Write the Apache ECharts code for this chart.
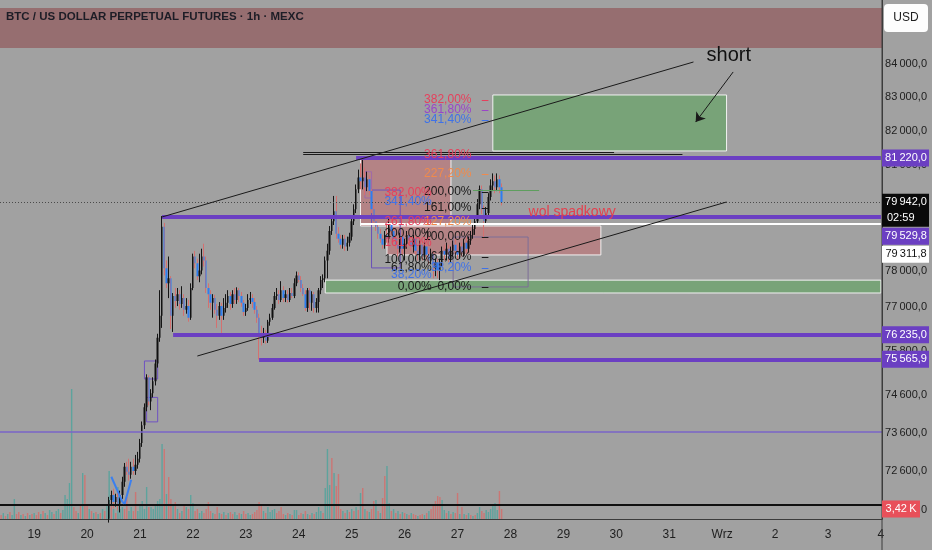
<!DOCTYPE html>
<html><head><meta charset="utf-8">
<script src="https://cdn.jsdelivr.net/npm/echarts@6/dist/echarts.min.js"></script>
<style>html,body{margin:0;padding:0;background:#a1a1a1;}#c{width:932px;height:550px;}</style>
</head><body><div id="c"></div>
<script>
const BG = '#a1a1a1';
const FONT = "'Liberation Sans Narrow','Liberation Sans',sans-serif";

// ---- time axis: hourly bars starting Aug 18 09:00 ----
const AXIS_START = Date.UTC(2025, 7, 18, 9);
const AXIS_HOURS = 400;
const pad = n => String(n).padStart(2, '0');
const categories = [];
for (let i = 0; i < AXIS_HOURS; i++) {
  const d = new Date(AXIS_START + i * 3600000);
  categories.push(pad(d.getUTCMonth() + 1) + '-' + pad(d.getUTCDate()) + ' ' + pad(d.getUTCHours()) + ':00');
}

// ---- price ticks on the right scale ----
const priceTicks = [84000, 83000, 82000, 81000, 80000, 79000, 78000, 77000, 75800, 74600, 73600, 72600, 71600];

// ---- candles [open, close, low, high], hourly from Aug 20 10:00 ----
const candleStart = '08-20 10:00';
const candles = [
 [71370,71850,71270,71930],[71850,71980,71730,72090],[71980,71800,71630,72140],[71800,71930,71680,72010],[71930,71750,71580,72040],
 [71750,71980,71530,72090],[71980,72320,71880,72450],[72320,72710,72190,72810],[72710,72580,72500,72840],[72580,72500,72350,72920],
 [72500,72710,72400,72840],[72710,72600,72500,72920],[72600,72760,72500,73020],[72760,72920,72660,73100],[72920,73330,72820,73440],
 [73330,73800,73230,73900],[73800,74280,73700,74380],[74280,75080,74170,75160],[75080,74430,74330,75130],[74430,74650,74200,74760],
 [74650,74970,74540,75080],[74970,75450,74860,75560],[75450,76150,75340,76260],[76150,76750,76040,77460],[76750,79240,76420,79545],
 [79240,78070,77870,79350],[78070,77650,77520,78290],[77650,77790,77240,78400],[77790,76750,76390,77850],[76750,77300,76310,77380],
 [77300,77160,76970,77520],[77160,77350,77020,77520],[77350,77080,76920,77460],[77080,77240,76970,77570],[77240,76920,76750,77350],
 [76920,77020,76810,77240],[77020,76700,76590,77190],[76700,77520,76640,77650],[77520,78400,77460,78480],[78400,78210,78070,78560],
 [78210,77850,77740,78340],[77850,78010,77680,78480],[78010,78400,77900,78620],[78400,78290,78120,78760],[78290,77520,77380,78400],
 [77520,77350,76970,77650],[77350,77110,76920,77460],[77110,77240,76700,77350],[77240,76920,76810,77330],[76920,76750,76420,77080],
 [76750,77020,76640,77130],[77020,76750,76280,77110],[76750,76970,76640,77240],[76970,77110,76840,77350],[77110,77300,76970,77460],
 [77300,77080,76920,77410],[77080,77350,76970,77460],[77350,77190,77080,77520],[77190,77460,77080,77540],[77460,77300,77130,77520],
 [77300,77110,77000,77410],[77110,76860,76750,77190],[76860,76970,76750,77080],[76970,77190,76890,77350],[77190,77240,77080,77410],
 [77240,77130,76970,77350],[77130,76920,76810,77240],[76920,76700,76560,77020],[76700,76280,75560,76810],[76280,76150,75940,76480],
 [76150,76200,76010,76420],[76200,76070,75990,76370],[76070,76590,76010,76640],[76590,76700,76480,76810],[76700,76970,76640,77080],
 [76970,77300,76920,77410],[77300,77350,77190,77520],[77350,77190,77080,77460],[77190,77460,77130,77710],[77460,77240,77130,77570],
 [77240,77350,77130,77460],[77350,77190,77110,77460],[77190,77380,77130,77520],[77380,77300,77240,77520],[77300,77650,77240,77790],
 [77650,77870,77570,77980],[77870,77740,77680,77960],[77740,77520,77410,77850],[77520,77350,77300,77630],[77350,76970,76890,77460],
 [76970,77460,76860,77520],[77460,77110,76920,77520],[77110,77350,76890,77430],[77350,76970,76840,77410],[76970,77130,76840,77240],
 [77130,77460,76840,77520],[77460,77740,77350,77850],[77740,77790,77520,77900],[77790,78290,77680,78400],[78290,78560,77790,78760],
 [78560,79120,78450,79260],[79120,79400,79010,79510],[79400,79680,79290,80120],[79680,79040,78900,80120],[79040,78900,78790,79230],
 [78900,78730,78620,79010],[78730,78900,78620,79010],[78900,78680,78560,79010],[78680,78790,78560,78960],[78790,78960,78680,79070],
 [78960,79400,78850,79510],[79400,79740,79290,79880],[79740,80310,79630,80450],[80310,80650,80200,80880],[80650,80540,80310,81060],
 [80540,80650,80310,81220],[80650,80370,80140,80940],[80370,80600,80260,80820],[80600,80260,80140,80710],[80260,79740,79630,80310],
 [79740,79400,79290,79850],[79400,79240,79120,79570],[79240,79040,78900,79350],[79040,78900,78790,79180],[78900,78730,78620,79010],
 [78730,79010,78620,79120],[79010,78900,78790,79290],[78900,79350,78790,79510],[79350,79120,79010,79460],[79120,78900,78790,79230],
 [78900,78730,78620,79010],[78730,78620,78400,78850],[78620,78960,78510,79070],[78960,78620,78450,79070],[78620,78760,78290,78900],
 [78760,79010,78620,79120],[79010,78850,78730,79120],[78850,78680,78560,78960],[78680,78900,78510,79010],[78900,78560,78450,79010],
 [78560,78450,78290,78730],[78450,78730,78290,78850],[78730,78400,78290,78850],[78400,78680,78290,78790],[78680,78450,78290,78790],
 [78450,78290,78180,78620],[78290,78480,78180,78620],[78480,78070,77790,78560],[78070,78240,77850,78340],[78240,78010,77790,78340],
 [78010,78240,77740,78340],[78240,78560,78120,78680],[78560,78450,78290,78730],[78450,78620,78290,78790],[78620,78340,78240,78730],
 [78340,78560,78240,78680],[78560,78730,78400,78850],[78730,78560,78450,78900],[78560,78450,78290,78730],[78450,78680,78340,78790],
 [78680,78510,78400,78790],[78510,78790,78400,78900],[78790,78620,78510,78960],[78620,78850,78510,78960],[78850,79010,78730,79120],
 [79010,79180,78900,79290],[79180,79400,79010,79510],[79400,79880,79290,80030],[79880,80310,79740,80420],[80310,79740,79600,80420],
 [79740,79400,78900,79850],[79400,79630,79290,79800],[79630,80090,79510,80200],[80090,80420,79990,80600],[80420,80540,80260,80770],
 [80540,80370,80200,80710],[80370,80600,80260,80770],[80600,80370,80200,80710],[80370,79942,79850,80480]
];

// ---- volume (K), hourly from Aug 18 09:00; direction u = up, d = down ----
const volumeStart = '08-18 09:00';
const volume = [
 1.37,2.05,1.03,1.71,2.39,1.37,6.84,1.71,2.39,1.37,
 1.71,1.03,2.05,1.37,1.71,2.05,1.37,2.39,1.71,2.74,
 2.05,1.37,3.08,2.39,1.71,2.74,3.42,2.05,3.08,8.21,
 6.84,12.31,44.46,4.10,2.74,2.05,5.13,15.73,15.05,5.13,
 3.42,2.74,2.05,2.39,1.71,2.05,3.42,2.74,4.79,16.42,
 6.50,3.42,2.05,10.94,3.42,4.10,3.42,7.52,2.74,4.10,
 2.74,9.23,2.74,4.79,6.16,3.42,10.94,4.10,4.10,3.42,
 4.79,6.16,6.84,25.65,23.94,8.55,14.36,6.84,5.13,5.81,
 3.42,2.05,2.74,4.79,4.10,3.42,8.21,5.47,2.74,3.42,
 2.05,2.74,2.05,3.42,5.81,2.74,2.05,1.71,4.10,2.05,
 1.71,2.39,1.37,2.05,2.39,1.71,2.39,1.37,2.05,1.71,
 2.74,1.71,2.05,1.37,1.71,2.39,3.08,5.81,5.13,2.74,
 2.05,4.10,2.39,3.08,3.42,2.05,2.74,4.10,1.71,1.37,
 2.05,1.71,1.37,3.08,3.08,1.37,2.05,1.71,2.74,1.71,
 1.37,2.05,1.71,2.39,4.10,2.74,2.05,10.60,23.94,11.63,
 20.86,15.73,11.29,15.39,3.42,2.74,2.05,3.08,2.39,3.42,
 2.74,4.10,3.08,8.89,10.60,3.42,2.74,2.39,3.42,6.16,
 6.50,2.74,2.05,7.18,14.71,18.13,5.47,2.74,3.42,2.05,
 2.74,1.71,2.39,2.05,1.71,1.37,2.05,1.71,1.37,1.03,
 1.37,1.71,1.37,2.05,2.74,3.42,4.79,6.16,7.87,7.52,
 6.50,3.08,2.05,2.74,1.71,2.39,2.05,8.89,1.71,4.10,
 1.71,1.37,2.05,1.37,1.03,1.37,2.05,4.10,2.74,2.05,
 3.08,2.39,3.42,4.79,5.47,3.08,9.58,3.42
];
const volumeDir = [
 'dududuuddu','dudududdud','uduuduuduu','uuuddududd','ududududuu','duduuudduu',
 'dduuuuuduu','uuuududdud','udududuudd','uudddduddu','dududduudu','dduudddddu',
 'duuuuddddu','duduuddudu','duduuuduuu','dudddududu','dududududd','ududduudud',
 'ududududdu','ddududdddd','uudududdud','udududuudd','uuuuuudd'
].join('');

// ---- drawings (time, price) ----
const topBand = [84480, 85700];
const keyLevels = [ // purple horizontal rays [start, price]
 ['08-25 02:00', 81220], ['08-21 10:00', 79529.8], ['08-21 15:00', 76235], ['08-23 06:00', 75565.9]
];
const trendLines = [
 [['08-21 10:00', 79519], ['08-31 11:00', 84060]],
 [['08-22 02:00', 75654], ['09-01 02:00', 79947]],
 [['08-24 02:00', 81383], ['08-29 23:00', 81383]],
 [['08-24 02:00', 81325], ['08-31 06:00', 81325]]
];
const zigzag = [['08-20 11:00', 72450], ['08-20 16:00', 71800], ['08-20 17:00', 71750], ['08-20 20:00', 72370]];
const greenZones = [
 [['08-27 16:00', 83072], ['09-01 02:00', 81422]],
 [['08-24 12:00', 77739], ['09-04 00:00', 77382]]
];
const pinkZones = [
 [['08-25 04:00', 81189], ['08-26 21:00', 79262]],
 [['08-25 16:00', 79262], ['08-29 17:00', 78444]]
];
const outlineBoxes = [ // [from, to, colour]
 [['08-25 09:00', 80290], ['08-25 22:00', 78080], '#6a50b8'],
 [['08-26 22:00', 78950], ['08-28 08:00', 77550], '#7c6e98'],
 [['08-21 02:00', 75519], ['08-21 08:00', 75034], '#6f52c2'],
 [['08-21 03:00', 74540], ['08-21 08:00', 73889], '#6f52c2'],
 [['08-25 06:00', 80818], ['08-25 09:00', 80062], '#a06aa8']
];
const lastPrice = 79942;
const whiteLevel = ['08-25 04:00', 79311.8];
const blueLevel = 73620;
const blackLevel = 71720;
const greenTick = [['08-27 07:00', 80290], ['08-28 13:00', 80290]];
const arrowLine = [['09-01 05:00', 83760], ['08-31 12:00', 82270]];
const shortNote = ['short', '09-01 03:00', 84271];
const noteWol = ['wol spadkowy', '08-28 08:00', 79660];
const fibLabels = [ // [text, colour, anchor time (right edge), price]
 ['382,00%', '#e6405c', '08-27 07:00', 82930], ['361,80%', '#9a46c8', '08-27 07:00', 82630], ['341,40%', '#3f72e8', '08-27 07:00', 82330],
 ['361,80%', '#e6405c', '08-27 07:00', 81300], ['227,20%', '#f08a4c', '08-27 07:00', 80750], ['200,00%', '#1a1a1a', '08-27 07:00', 80230],
 ['382,00%', '#e6405c', '08-26 13:00', 80200], ['341,40%', '#3f72e8', '08-26 13:00', 79950], ['161,00%', '#1a1a1a', '08-27 07:00', 79780],
 ['127,20%', '#f08a4c', '08-27 07:00', 79380], ['261,80%', '#e6405c', '08-26 13:00', 79380], ['200,00%', '#1a1a1a', '08-26 13:00', 79040],
 ['100,00%', '#1a1a1a', '08-27 07:00', 78950], ['161,80%', '#e6405c', '08-26 13:00', 78780], ['100,00%', '#1a1a1a', '08-26 13:00', 78300],
 ['61,80%', '#1a1a1a', '08-27 07:00', 78390], ['38,20%', '#3f72e8', '08-27 07:00', 78080], ['61,80%', '#1a1a1a', '08-26 13:00', 78080],
 ['38,20%', '#3f72e8', '08-26 13:00', 77880], ['0,00%', '#1a1a1a', '08-26 13:00', 77550], ['0,00%', '#1a1a1a', '08-27 07:00', 77550]
];
const fibDashes = [ // [colour, price]
 ['#e6405c', 82930], ['#9a46c8', 82630], ['#3f72e8', 82330], ['#f08a4c', 80750], ['#1a1a1a', 80230],
 ['#1a1a1a', 79780], ['#1a1a1a', 78950], ['#1a1a1a', 78390], ['#3f72e8', 78080], ['#1a1a1a', 77550]
];
const dashSpan = ['08-27 11:00', '08-27 14:00'];

const PURPLE = '#6b3fc2';
const lastCat = categories[categories.length - 1];

// ---- helpers ----
function dayLabel(v) {
  const m = +v.slice(0, 2), d = +v.slice(3, 5);
  return (m === 9 && d === 1) ? 'Wrz' : String(d);
}
function fmtPrice(p) {
  const s = p.toFixed(1).split('.');
  return s[0].replace(/\B(?=(\d{3})+(?!\d))/g, '\u2009') + ',' + s[1];
}
const seg = (a, b, ls) => [{ coord: a, lineStyle: ls }, { coord: b }];

const ci = categories.indexOf(candleStart);
const vi = categories.indexOf(volumeStart);
const candleRows = candles.map((c, k) => [ci + k, c[0], c[1], c[2], c[3]]);
const volRows = volume.map((v, k) => ({
  value: [vi + k, v],
  itemStyle: { color: volumeDir[k] === 'u' ? 'rgba(38,166,154,0.55)' : 'rgba(239,83,80,0.55)' }
}));

const areaData = [
  [{ yAxis: topBand[0], itemStyle: { color: '#966e70', borderWidth: 0 } }, { yAxis: topBand[1] }]
];
pinkZones.forEach(z => areaData.push([{ coord: z[0], itemStyle: { color: 'rgba(205,95,100,0.45)', borderColor: '#f2f2f2', borderWidth: 1 } }, { coord: z[1] }]));
greenZones.forEach(z => areaData.push([{ coord: z[0], itemStyle: { color: 'rgba(80,165,80,0.5)', borderColor: '#f2f2f2', borderWidth: 1 } }, { coord: z[1] }]));
outlineBoxes.forEach(b => areaData.push([{ coord: b[0], itemStyle: { color: 'rgba(0,0,0,0)', borderColor: b[2], borderWidth: 1 } }, { coord: b[1] }]));

const lineData = [];
lineData.push({ yAxis: lastPrice, lineStyle: { color: '#4a4a4a', width: 1, type: [1, 2] } });
lineData.push({ yAxis: blueLevel, lineStyle: { color: '#7a64c8', width: 1.5, type: 'solid' } });
lineData.push({ yAxis: blackLevel, lineStyle: { color: '#101010', width: 2, type: 'solid' } });
lineData.push(seg(whiteLevel, [lastCat, whiteLevel[1]], { color: '#ffffff', width: 2, type: 'solid' }));
keyLevels.forEach(k => lineData.push(seg(k, [lastCat, k[1]], { color: PURPLE, width: 4, type: 'solid' })));
trendLines.forEach(t => lineData.push(seg(t[0], t[1], { color: '#1a1a1a', width: 1, type: 'solid' })));
for (let i = 0; i < zigzag.length - 1; i++) lineData.push(seg(zigzag[i], zigzag[i + 1], { color: '#3a7ff0', width: 2, type: 'solid' }));
lineData.push(seg(greenTick[0], greenTick[1], { color: '#5e9e5e', width: 1, type: 'solid' }));
fibDashes.forEach(f => lineData.push(seg([dashSpan[0], f[1]], [dashSpan[1], f[1]], { color: f[0], width: 1, type: 'solid' })));

const pointData = fibLabels.map(f => ({
  name: f[0], coord: [f[2], f[3]],
  label: { color: f[1], position: 'left', distance: 1, fontSize: 12 }
}));
pointData.push({ name: noteWol[0], coord: [noteWol[1], noteWol[2]], label: { color: '#e4404e', position: 'right', distance: 0, fontSize: 14 } });
pointData.push({ name: shortNote[0], coord: [shortNote[1], shortNote[2]], label: { color: '#111', position: 'inside', fontSize: 20 } });

const chart = echarts.init(document.getElementById('c'));
const option = {
  backgroundColor: BG,
  animation: false,
  title: {
    text: 'BTC / US DOLLAR PERPETUAL FUTURES · 1h · MEXC', left: 6, top: 11, padding: 0,
    textStyle: { fontFamily: FONT, fontSize: 11.5, fontWeight: 'bold', color: '#1d1d26' }
  },
  grid: { left: 0, right: 50, top: 0, bottom: 31 },
  xAxis: {
    type: 'category', data: categories, boundaryGap: true,
    axisLine: { show: true, lineStyle: { color: '#3c3c3c', width: 1 } },
    axisTick: { show: false },
    splitLine: { show: false },
    axisLabel: {
      interval: (i, v) => v.endsWith(' 00:00'),
      formatter: dayLabel, color: '#1e1e1e', fontSize: 12, fontFamily: FONT, margin: 10
    }
  },
  yAxis: [
    { type: 'log', logBase: 10, min: 71362, max: 85948, position: 'right',
      axisLine: { show: true, lineStyle: { color: '#3c3c3c' } }, axisTick: { show: false },
      axisLabel: { show: false }, splitLine: { show: false } },
    { type: 'value', min: 0, max: 177.5, show: false, splitLine: { show: false } }
  ],
  series: [
    { name: 'volume', type: 'bar', xAxisIndex: 0, yAxisIndex: 1, data: volRows, barWidth: 1.4, z: 1, silent: true },
    { name: 'zones', type: 'line', data: [], z: 1, silent: true,
      markArea: { silent: true, label: { show: false }, data: areaData } },
    { name: 'wicks', type: 'candlestick', data: candleRows, barWidth: 0.3, z: 2, silent: true,
      dimensions: ['t', 'open', 'close', 'low', 'high'], encode: { x: 0, y: [1, 2, 3, 4] },
      itemStyle: { color: '#151515', color0: '#d47070', borderColor: '#151515', borderColor0: '#d47070', borderWidth: 1 } },
    { name: 'BTC', type: 'candlestick', data: candleRows, barWidth: 1.9, z: 3, silent: true,
      dimensions: ['t', 'open', 'close', 'low', 'high'], encode: { x: 0, y: [1, 2, 3, 4] },
      itemStyle: { color: '#111111', color0: '#2d7df0', borderColor: 'rgba(0,0,0,0)', borderColor0: 'rgba(0,0,0,0)', borderWidth: 0 } },
    { name: 'drawings', type: 'line', data: [], z: 4, silent: true,
      markLine: { silent: true, symbol: ['none', 'none'], label: { show: false }, data: lineData } },
    { name: 'arrow', type: 'line', data: [], z: 4, silent: true,
      markLine: { silent: true, symbol: ['none', 'arrow'], symbolSize: 9, label: { show: false },
        lineStyle: { color: '#1a1a1a', width: 1, type: 'solid' },
        data: [seg(arrowLine[0], arrowLine[1], { color: '#1a1a1a', width: 1, type: 'solid' })] } },
    { name: 'notes', type: 'line', data: [], z: 5, silent: true,
      markPoint: { silent: true, symbol: 'circle', symbolSize: 1, itemStyle: { color: 'rgba(0,0,0,0)' },
        label: { show: true, formatter: p => p.name, fontFamily: FONT }, data: pointData } }
  ]
};
chart.setOption(option);

// ---- price scale labels and badges, placed with the chart's own scales ----
const right = chart.getWidth() - 50;
const yOf = p => chart.convertToPixel({ yAxisIndex: 0 }, p);
const LBL = 11;
const g = [];
g.push({ type: 'line', z: 10, shape: { x1: right, y1: 0, x2: right, y2: chart.getHeight() }, style: { stroke: '#3c3c3c', lineWidth: 1 } });
priceTicks.forEach(p => g.push({ type: 'text', z: 10,
  style: { text: fmtPrice(p), x: right + 45, y: yOf(p), align: 'right', verticalAlign: 'middle', fill: '#202020', fontSize: LBL, fontFamily: FONT } }));

const badges = [
  { price: 81220, fill: PURPLE, color: '#ffffff' },
  { price: lastPrice, fill: '#0a0a0a', color: '#ffffff', sub: '02:59' },
  { price: 79529.8, fill: PURPLE, color: '#ffffff' },
  { price: whiteLevel[1], fill: '#ffffff', color: '#111111' },
  { price: 76235, fill: PURPLE, color: '#ffffff' },
  { price: 75565.9, fill: PURPLE, color: '#ffffff' }
];
let prevBottom = -Infinity;
badges.forEach(b => {
  const h = b.sub ? 33 : 17;
  const top = Math.max(yOf(b.price) - 8.5, prevBottom + 1);
  prevBottom = top + h;
  g.push({ type: 'rect', z: 20, shape: { x: right, y: top, width: 47, height: h }, style: { fill: b.fill } });
  g.push({ type: 'text', z: 21, style: { text: fmtPrice(b.price), x: right + 24, y: top + 8.5, align: 'center', verticalAlign: 'middle', fill: b.color, fontSize: LBL, fontFamily: FONT } });
  if (b.sub) g.push({ type: 'text', z: 21, style: { text: b.sub, x: right + 5, y: top + 24.5, align: 'left', verticalAlign: 'middle', fill: b.color, fontSize: LBL, fontFamily: FONT } });
});
const lastVol = volume[volume.length - 1];
const vy = chart.convertToPixel({ yAxisIndex: 1 }, lastVol);
g.push({ type: 'rect', z: 20, shape: { x: right, y: vy - 8.5, width: 38, height: 17 }, style: { fill: '#e8505a' } });
g.push({ type: 'text', z: 21, style: { text: lastVol.toFixed(2).replace('.', ',') + '\u2009K', x: right + 19, y: vy, align: 'center', verticalAlign: 'middle', fill: '#ffffff', fontSize: LBL, fontFamily: FONT } });
g.push({ type: 'rect', z: 20, shape: { x: right + 2, y: 4, width: 44, height: 28, r: 4 }, style: { fill: '#fdfdfd' } });
g.push({ type: 'text', z: 21, style: { text: 'USD', x: right + 24, y: 18, align: 'center', verticalAlign: 'middle', fill: '#202020', fontSize: 12, fontFamily: FONT } });
chart.setOption({ graphic: g });
</script></body></html>
